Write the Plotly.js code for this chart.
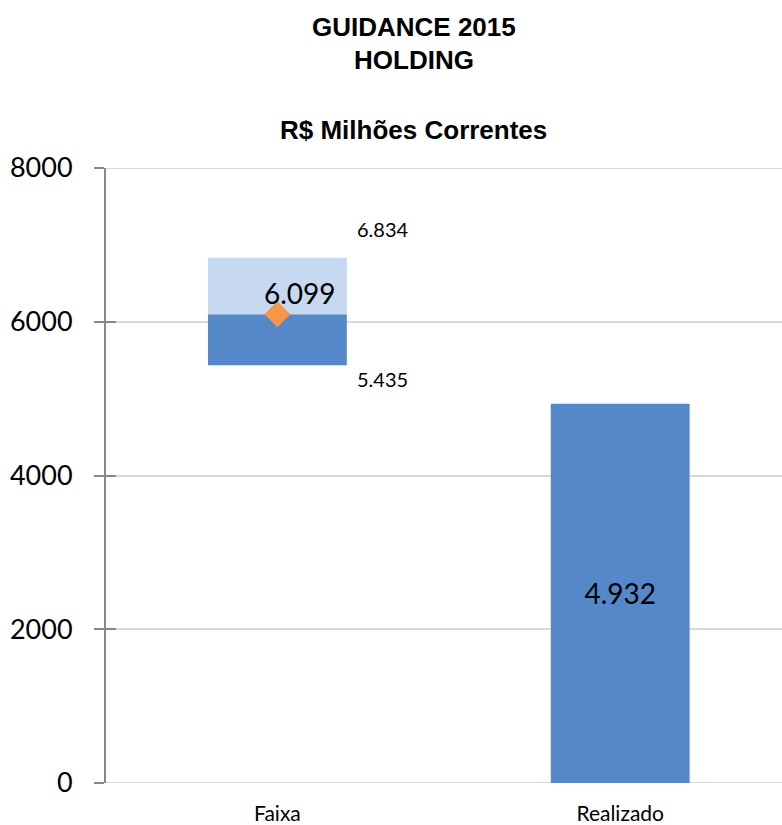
<!DOCTYPE html>
<html>
<head>
<meta charset="utf-8">
<script src="https://cdn.plot.ly/plotly-3.0.1.min.js"></script>
<style>html,body{margin:0;padding:0;background:#fff;}#chart{width:782px;height:825px;}</style>
</head>
<body>
<div id="chart"></div>
<script>
const categories = ["Faixa", "Realizado"];
const faixaLow = 5435;
const faixaMid = 6099;
const faixaHigh = 6834;
const realizado = 4932;
const lowLabel = "5.435";
const midLabel = "6.099";
const highLabel = "6.834";
const realizadoLabel = "4.932";
const yTicks = [0, 2000, 4000, 6000, 8000];

const dark = "#5588C8";
const light = "#C6D9F1";
const orange = "#F79646";
const barW = 0.405;
const fontBody = "Lato, 'Open Sans', sans-serif";

const traces = [
  {
    type: "bar", x: categories,
    base: [faixaLow, 0],
    y: [faixaMid - faixaLow, realizado],
    width: barW, marker: {color: dark},
    text: ["", realizadoLabel], textposition: "inside", insidetextanchor: "middle",
    textfont: {family: fontBody, size: 28, color: "#000"},
    hoverinfo: "skip", showlegend: false
  },
  {
    type: "bar", x: [categories[0]],
    base: [faixaMid],
    y: [faixaHigh - faixaMid],
    width: barW, marker: {color: light},
    hoverinfo: "skip", showlegend: false
  },
  {
    type: "scatter", mode: "markers", x: [categories[0]], y: [faixaMid],
    marker: {symbol: "diamond", size: 20, color: orange},
    hoverinfo: "skip", showlegend: false
  },
  {
    type: "scatter", x: [categories[0]], y: [faixaMid], yaxis: "y2",
    mode: "markers", marker: {opacity: 0}, hoverinfo: "skip", showlegend: false
  }
];

const lblFont = {family: fontBody, size: 20, color: "#000"};
const titleFont = {family: "'Liberation Sans', Arial, sans-serif", size: 26, color: "#000"};

const layout = {
  width: 782, height: 825,
  margin: {l: 106, r: 0, t: 168, b: 42},
  paper_bgcolor: "#fff", plot_bgcolor: "#fff",
  barmode: "overlay",
  showlegend: false,
  xaxis: {
    type: "category", range: [-0.5, 1.472],
    showline: false, showgrid: false, zeroline: false, ticks: "",
    tickfont: {family: fontBody, size: 21, color: "#000"},
    ticklabelstandoff: 16
  },
  yaxis: {
    range: [0, 8000], tickvals: yTicks, ticktext: yTicks.map(String),
    showline: true, linecolor: "#888", linewidth: 2,
    ticks: "outside", ticklen: 10, tickwidth: 2, tickcolor: "#888",
    showgrid: true, gridcolor: "#d9d9d9", gridwidth: 2,
    zeroline: false,
    tickfont: {family: fontBody, size: 27, color: "#000"},
    ticklabelstandoff: 16
  },
  yaxis2: {
    overlaying: "y", side: "left", range: [0, 8000], tickvals: yTicks,
    showticklabels: false, showgrid: false, zeroline: false, showline: false,
    ticks: "inside", ticklen: 10, tickwidth: 2, tickcolor: "#888"
  },
  shapes: [
    {type: "line", xref: "paper", yref: "y", x0: 0, x1: 1, y0: yTicks[0], y1: yTicks[0],
     line: {color: "#d9d9d9", width: 2}, layer: "below"},
    {type: "line", xref: "paper", yref: "y", x0: 0, x1: 1, y0: yTicks[yTicks.length - 1], y1: yTicks[yTicks.length - 1],
     line: {color: "#d9d9d9", width: 2}, layer: "below"}
  ],
  annotations: [
    {xref: "paper", yref: "paper", x: 0.455, y: 1, yshift: 141, text: "<b>GUIDANCE 2015</b>",
     showarrow: false, font: titleFont, xanchor: "center", yanchor: "middle"},
    {xref: "paper", yref: "paper", x: 0.455, y: 1, yshift: 108, text: "<b>HOLDING</b>",
     showarrow: false, font: titleFont, xanchor: "center", yanchor: "middle"},
    {xref: "paper", yref: "paper", x: 0.455, y: 1, yshift: 38, text: "<b>R$ Milhões Correntes</b>",
     showarrow: false, font: titleFont, xanchor: "center", yanchor: "middle"},
    {x: categories[0], y: faixaHigh, text: highLabel, showarrow: false, font: lblFont,
     xanchor: "left", yanchor: "middle", xshift: 78, yshift: 29},
    {x: categories[0], y: faixaLow, text: lowLabel, showarrow: false, font: lblFont,
     xanchor: "left", yanchor: "middle", xshift: 78, yshift: -14},
    {x: categories[0], y: faixaMid, text: midLabel, showarrow: false,
     font: {family: fontBody, size: 28, color: "#000"},
     xanchor: "center", yanchor: "middle", xshift: 23, yshift: 21}
  ]
};

Plotly.newPlot("chart", traces, layout, {displayModeBar: false, staticPlot: true});
</script>
</body>
</html>
